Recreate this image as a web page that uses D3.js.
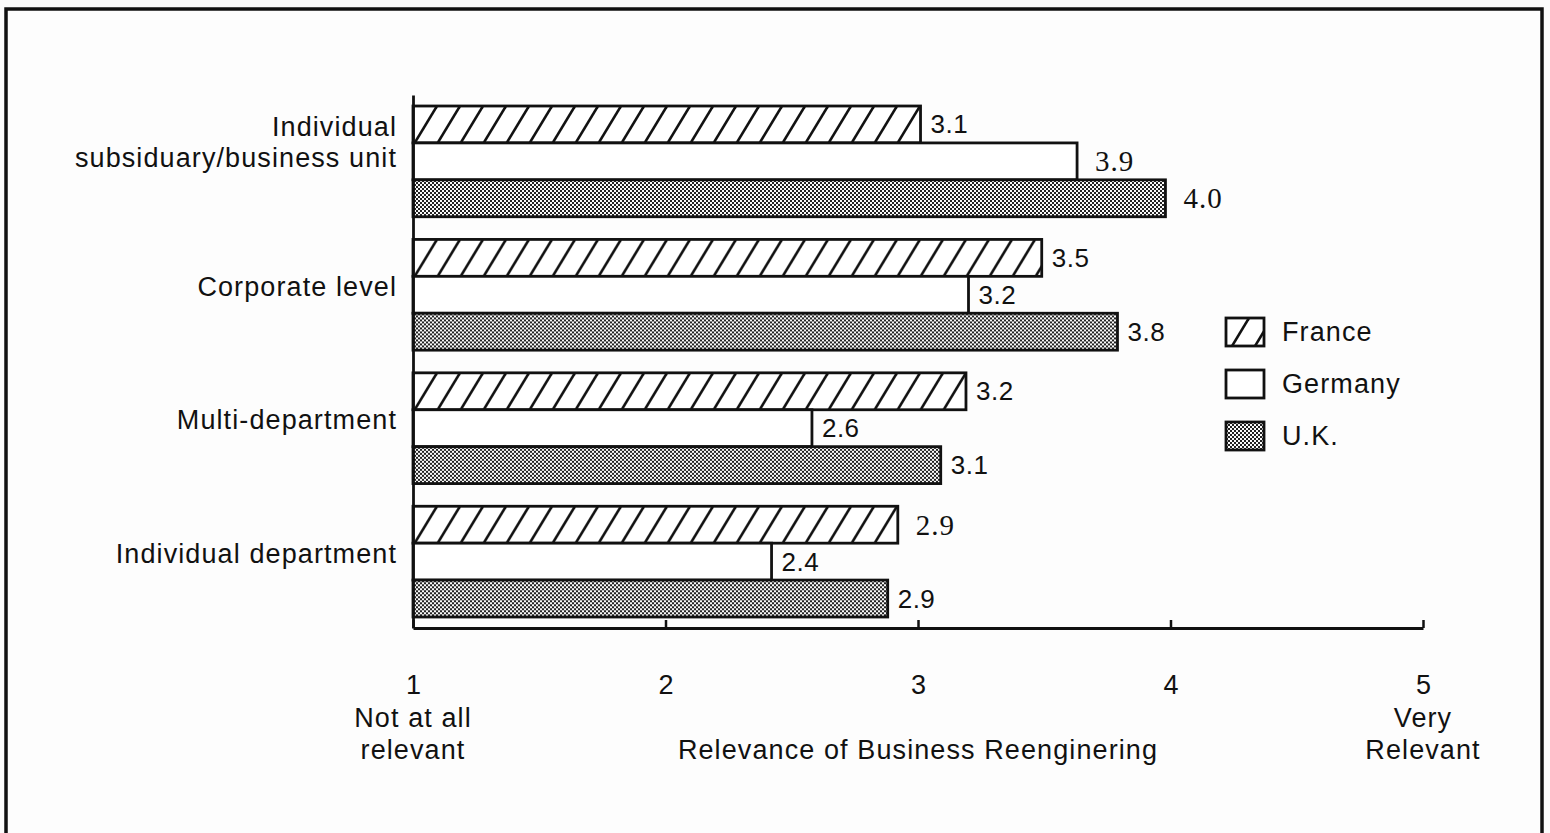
<!DOCTYPE html>
<html>
<head>
<meta charset="utf-8">
<script src="https://cdn.jsdelivr.net/npm/d3@7"></script>
<style>
  body { margin: 0; background: #fcfcfc; }
  text { font-family: "Liberation Sans", Arial, sans-serif; fill: #111; }
</style>
</head>
<body>
<svg id="chart" width="1550" height="833"></svg>
<script>
// data
const categories = ["Individual subsiduary/business unit", "Corporate level", "Multi-department", "Individual department"];
const categoryLines = [["Individual", "subsiduary/business unit"], ["Corporate level"], ["Multi-department"], ["Individual department"]];
const series = ["France", "Germany", "U.K."];
// bar lengths as drawn
const france = [3.01, 3.49, 3.19, 2.92];
const germany = [3.63, 3.2, 2.58, 2.42];
const uk = [3.98, 3.79, 3.09, 2.88];
// printed value labels
const franceLabels = ["3.1", "3.5", "3.2", "2.9"];
const germanyLabels = ["3.9", "3.2", "2.6", "2.4"];
const ukLabels = ["4.0", "3.8", "3.1", "2.9"];
const xTicks = [1, 2, 3, 4, 5];

const values = [france, germany, uk];
const labels = [franceLabels, germanyLabels, ukLabels];
// some labels were set in a serif face in the original
const serifLabels = new Set(["1-0", "2-0", "0-3"]);

const svg = d3.select("#chart");

// frame
svg.append("rect")
    .attr("x", 6).attr("y", 9)
    .attr("width", 1536).attr("height", 840)
    .attr("fill", "#fdfdfd")
    .attr("stroke", "#111")
    .attr("stroke-width", 3.5);

// patterns
const defs = svg.append("defs");
const hw = 23, hh = 38;
const hatch = defs.append("pattern")
    .attr("id", "hatch")
    .attr("patternUnits", "userSpaceOnUse")
    .attr("width", hw).attr("height", hh);
hatch.append("rect").attr("width", hw).attr("height", hh).attr("fill", "#fff");
[-hw, 0, hw].forEach(o => {
    hatch.append("line")
        .attr("x1", o).attr("y1", hh)
        .attr("x2", o + hw).attr("y2", 0)
        .attr("stroke", "#111")
        .attr("stroke-width", 2.6);
});

const dots = defs.append("pattern")
    .attr("id", "dots")
    .attr("patternUnits", "userSpaceOnUse")
    .attr("width", 4).attr("height", 4);
dots.append("rect").attr("width", 4).attr("height", 4).attr("fill", "#fafafa");
dots.append("rect").attr("width", 2).attr("height", 2).attr("fill", "#222");
dots.append("rect").attr("x", 2).attr("y", 2).attr("width", 2).attr("height", 2).attr("fill", "#222");

const fills = ["url(#hatch)", "#fff", "url(#dots)"];

// scales
const x = d3.scaleLinear().domain([1, 5]).range([413, 1423]);
const y = d3.scaleBand()
    .domain(categories)
    .range([95, 628])
    .paddingInner(0.17)
    .paddingOuter(0.0825);
const ySub = d3.scaleBand()
    .domain(series)
    .range([0, y.bandwidth()]);

// bars
const groups = svg.append("g")
    .selectAll("g")
    .data(categories)
    .join("g")
    .attr("transform", d => `translate(0,${y(d)})`);

groups.each(function (cat, ci) {
    const g = d3.select(this);
    series.forEach((s, si) => {
        const v = values[si][ci];
        g.append("rect")
            .attr("x", x(1))
            .attr("y", ySub(s))
            .attr("width", x(v) - x(1))
            .attr("height", ySub.bandwidth())
            .attr("fill", fills[si])
            .attr("stroke", "#111")
            .attr("stroke-width", 2.8);

        const serif = serifLabels.has(si + "-" + ci);
        g.append("text")
            .attr("x", x(v) + (serif ? 18 : 10))
            .attr("y", ySub(s) + ySub.bandwidth() / 2)
            .attr("dominant-baseline", "central")
            .style("font-family", serif ? "'Liberation Serif', 'Times New Roman', serif" : null)
            .style("font-size", serif ? "29px" : "26px")
            .style("letter-spacing", serif ? "1px" : "0.5px")
            .text(labels[si][ci]);
    });
});

// category labels
categories.forEach((cat, ci) => {
    const lines = categoryLines[ci];
    const c = y(cat) + y.bandwidth() / 2;
    const base = lines.length > 1 ? c - 25 : c + 1;
    lines.forEach((line, li) => {
        svg.append("text")
            .attr("x", 397)
            .attr("y", base + li * 31)
            .attr("text-anchor", "end")
            .style("font-size", "27px")
            .style("letter-spacing", "1.1px")
            .text(line);
    });
});

// y axis line
const yAxis = svg.append("g")
    .attr("transform", `translate(${x(1)},0)`)
    .call(d3.axisLeft(y).tickSize(0).tickFormat(""));
yAxis.select(".domain").attr("stroke", "#111").attr("stroke-width", 2.8);

// x axis
const xAxis = svg.append("g")
    .attr("transform", "translate(0,628)")
    .call(d3.axisBottom(x).tickValues(xTicks).tickFormat(d3.format("d"))
        .tickSizeInner(-8).tickSizeOuter(0).tickPadding(47));
xAxis.select(".domain").attr("stroke", "#111").attr("stroke-width", 2.8);
xAxis.selectAll(".tick line").attr("stroke", "#111").attr("stroke-width", 2.5);
xAxis.selectAll(".tick text")
    .attr("fill", "#111")
    .style("font-family", "'Liberation Sans', Arial, sans-serif")
    .style("font-size", "27px");

// axis annotations
const notes = [
    { x: x(1), y: 727, t: "Not at all" },
    { x: x(1), y: 759, t: "relevant" },
    { x: x(5), y: 727, t: "Very" },
    { x: x(5), y: 759, t: "Relevant" },
    { x: x(3), y: 759, t: "Relevance of Business Reenginering" }
];
svg.append("g").selectAll("text")
    .data(notes)
    .join("text")
    .attr("x", d => d.x)
    .attr("y", d => d.y)
    .attr("text-anchor", "middle")
    .style("font-size", "27px")
    .style("letter-spacing", "1.1px")
    .text(d => d.t);

// legend
const legend = svg.append("g")
    .selectAll("g")
    .data(series)
    .join("g")
    .attr("transform", (d, i) => `translate(1226,${318 + i * 52})`);
legend.append("rect")
    .attr("width", 38).attr("height", 28)
    .attr("fill", (d, i) => fills[i])
    .attr("stroke", "#111")
    .attr("stroke-width", 2.8);
legend.append("text")
    .attr("x", 56)
    .attr("y", 14)
    .attr("dominant-baseline", "central")
    .style("font-size", "27px")
    .style("letter-spacing", "1.1px")
    .text(d => d);
</script>
</body>
</html>
